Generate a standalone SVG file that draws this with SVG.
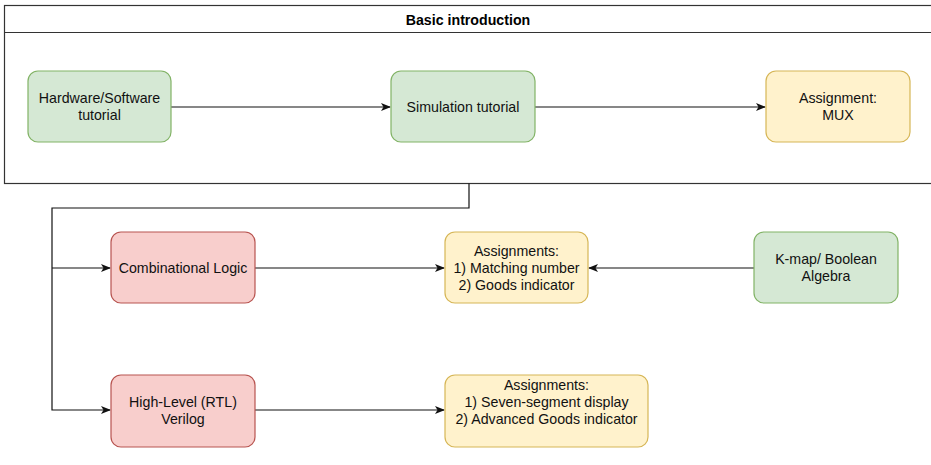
<svg xmlns="http://www.w3.org/2000/svg" width="931" height="465" viewBox="0 0 931 465">
<defs>
<style>
.box{stroke-width:1.2}
.green{fill:#d5e8d4;stroke:#82b366}
.red{fill:#f8cecc;stroke:#b85450}
.yellow{fill:#fff2cc;stroke:#d6b656}
.lbl{font-family:"Liberation Sans",Arial,Helvetica,sans-serif;font-size:14.2px;fill:#111;text-anchor:middle}
.title{font-family:"Liberation Sans",Arial,Helvetica,sans-serif;font-size:14.2px;font-weight:bold;fill:#000;text-anchor:middle}
.conn{fill:none;stroke:#111;stroke-width:1.2}
</style>
<marker id="arr" viewBox="0 0 10 10" refX="9" refY="5" markerWidth="10" markerHeight="10" markerUnits="userSpaceOnUse" orient="auto">
<path d="M0,1 L10,5 L0,9 L2.5,5 z" fill="#111"/>
</marker>
</defs>
<rect width="931" height="465" fill="#fff"/>
<g id="container">
<rect x="4.5" y="5.5" width="940" height="178" fill="#fff" stroke="#333" stroke-width="1.2"/>
<line x1="4.5" y1="32.5" x2="944.5" y2="32.5" stroke="#333" stroke-width="1.2"/>
<text class="title" x="468" y="25">Basic introduction</text>
</g>
<g id="connectors">
<line class="conn" x1="171" y1="107" x2="390" y2="107" marker-end="url(#arr)"/>
<line class="conn" x1="535" y1="107" x2="765" y2="107" marker-end="url(#arr)"/>
<polyline class="conn" points="469,183.5 469,208 52,208 52,410 110,410" marker-end="url(#arr)"/>
<line class="conn" x1="52" y1="268" x2="110" y2="268" marker-end="url(#arr)"/>
<line class="conn" x1="255" y1="268" x2="444" y2="268" marker-end="url(#arr)"/>
<line class="conn" x1="754" y1="268" x2="589" y2="268" marker-end="url(#arr)"/>
<line class="conn" x1="255" y1="410" x2="444" y2="410" marker-end="url(#arr)"/>
</g>
<g id="hw-sw">
<rect class="box green" x="28" y="71" width="143" height="71" rx="10"/>
<text class="lbl" x="99.5" y="103">Hardware/Software</text>
<text class="lbl" x="99.5" y="120">tutorial</text>
</g>
<g id="sim">
<rect class="box green" x="391" y="71" width="144" height="71" rx="10"/>
<text class="lbl" x="463" y="112">Simulation tutorial</text>
</g>
<g id="mux">
<rect class="box yellow" x="766" y="71" width="144" height="71" rx="10"/>
<text class="lbl" x="838" y="103">Assignment:</text>
<text class="lbl" x="838" y="120">MUX</text>
</g>
<g id="comb">
<rect class="box red" x="111" y="232" width="144" height="71" rx="10"/>
<text class="lbl" x="183" y="273">Combinational Logic</text>
</g>
<g id="assign1">
<rect class="box yellow" x="445" y="232" width="143" height="71" rx="10"/>
<text class="lbl" x="516.5" y="255.5">Assignments:</text>
<text class="lbl" x="516.5" y="272.5">1) Matching number</text>
<text class="lbl" x="516.5" y="289.5">2) Goods indicator</text>
</g>
<g id="kmap">
<rect class="box green" x="754" y="232" width="144" height="71" rx="10"/>
<text class="lbl" x="826" y="264">K-map/ Boolean</text>
<text class="lbl" x="826" y="281">Algebra</text>
</g>
<g id="rtl">
<rect class="box red" x="111" y="375" width="144" height="72" rx="10"/>
<text class="lbl" x="183" y="407">High-Level (RTL)</text>
<text class="lbl" x="183" y="424">Verilog</text>
</g>
<g id="assign2">
<rect class="box yellow" x="445" y="375" width="203" height="72" rx="10"/>
<text class="lbl" x="546.5" y="389.5">Assignments:</text>
<text class="lbl" x="546.5" y="406.5">1) Seven-segment display</text>
<text class="lbl" x="546.5" y="423.5">2) Advanced Goods indicator</text>
</g>
</svg>
